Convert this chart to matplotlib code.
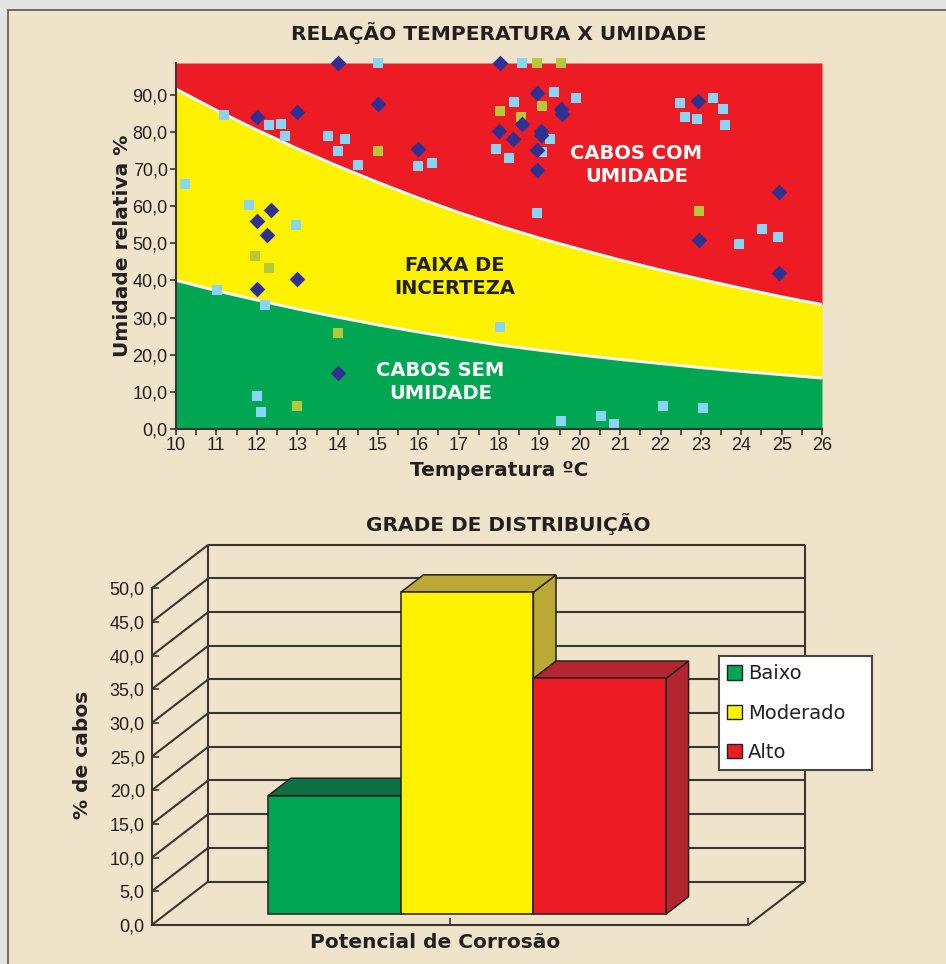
import matplotlib
matplotlib.use("Agg")
import matplotlib.pyplot as plt
import matplotlib.transforms as mtransforms
from matplotlib.patches import Rectangle, Polygon, Patch
from matplotlib.lines import Line2D
from matplotlib.ticker import FuncFormatter, MultipleLocator, FixedLocator

# ---------------- data: temperature x humidity ----------------
temp_grid = [10, 11, 12, 13, 14, 15, 16, 17, 18, 19, 20, 21, 22, 23, 24, 25, 26]
upper_limit = [91.5, 85.8, 80.5, 75.5, 70.8, 66.4, 62.2, 58.3, 54.7,
               51.4, 48.4, 45.5, 42.8, 40.3, 37.9, 35.6, 33.5]
lower_limit = [40.0, 37.2, 34.7, 32.3, 30.1, 28.0, 26.1, 24.3, 22.6,
               21.2, 19.9, 18.7, 17.6, 16.5, 15.5, 14.6, 13.7]

diamond_temp = [14.02, 18.02, 12.0, 13.0, 15.0, 16.0, 12.35, 12.0, 12.25, 12.0,
                13.0, 14.02, 18.0, 18.56, 18.34, 18.95, 19.03, 19.04, 18.95, 18.95,
                19.54, 19.56, 22.92, 22.95, 24.93, 24.94]
diamond_hum = [98.5, 98.5, 83.9, 85.2, 87.5, 75.3, 58.9, 56.0, 52.3, 37.6,
               40.5, 15.2, 80.3, 82.1, 78.1, 90.4, 80.3, 79.2, 75.2, 69.7,
               86.1, 84.8, 88.2, 50.9, 63.9, 42.0]

light_temp = [15.01, 11.2, 12.31, 12.61, 12.71, 13.77, 14.19, 14.0, 14.52, 16.0,
              16.35, 17.92, 10.23, 11.82, 12.98, 18.56, 19.37, 18.36, 19.91, 19.27,
              19.06, 18.26, 18.95, 22.49, 23.31, 23.54, 22.61, 22.91, 23.6, 24.52,
              24.92, 23.95, 11.02, 12.21, 12.01, 12.11, 18.02, 19.54, 20.53, 20.86,
              22.07, 23.06]
light_hum = [98.5, 84.5, 81.8, 82.1, 78.9, 78.9, 78.1, 74.8, 71.1, 70.8,
             71.6, 75.4, 65.9, 60.3, 54.9, 98.5, 90.8, 88.0, 89.1, 78.1,
             74.5, 72.9, 58.1, 87.7, 89.1, 86.1, 84.0, 83.5, 81.8, 53.8,
             51.7, 49.8, 37.4, 33.3, 8.9, 4.5, 27.5, 2.1, 3.4, 1.3,
             6.1, 5.6]

olive_temp = [15.01, 18.03, 18.95, 19.54, 19.07, 18.55, 22.96, 11.96, 12.31, 14.02, 13.0]
olive_hum = [74.8, 85.7, 98.5, 98.5, 86.9, 83.9, 58.7, 46.6, 43.3, 25.8, 6.1]

hum_ticks = [0, 10, 20, 30, 40, 50, 60, 70, 80, 90]
temp_ticks = list(range(10, 27))

# ---------------- data: distribution ----------------
levels = ["Baixo", "Moderado", "Alto"]
share = [17.6, 47.8, 35.0]
share_ticks = [0, 5, 10, 15, 20, 25, 30, 35, 40, 45, 50]

# ---------------- style ----------------
RED, YELLOW, GREEN = "#ed1c24", "#fff200", "#00a651"
NAVY, SKY, OLIVE = "#2e3192", "#8ad4f5", "#b7c93b"
INK = "#231f20"
LINE = "#3a3632"
BEIGE = "#efe3ca"
BOLD = dict(family="DejaVu Sans", fontweight="bold", color=INK)
TICKFONT = ["Liberation Sans Narrow", "Liberation Sans"]

W, H = 946, 964
fig = plt.figure(figsize=(W / 100, H / 100), dpi=100, facecolor="#e4e5e2")

def fx(px):
    return px / W

def fy(py):
    return 1 - py / H

# beige panel
fig.patches.append(Rectangle((fx(8), -0.05), 1.2, fy(10) + 0.05,
                             transform=fig.transFigure, facecolor=BEIGE,
                             edgecolor="#66615a", linewidth=1.3, zorder=-10))

comma = FuncFormatter(lambda v, p: f"{v:.1f}".replace(".", ","))

# ---------------- top chart ----------------
ax = fig.add_axes([fx(176), fy(429), fx(822) - fx(176), fy(63) - fy(429)])
ax.set_facecolor("none")
YMAX = 98.5
ax.set_xlim(10, 26)
ax.set_ylim(0, YMAX)

ax.fill_between(temp_grid, 0, lower_limit, color=GREEN, linewidth=0, zorder=1)
ax.fill_between(temp_grid, lower_limit, upper_limit, color=YELLOW, linewidth=0, zorder=1)
ax.fill_between(temp_grid, upper_limit, YMAX, color=RED, linewidth=0, zorder=1)
ax.plot(temp_grid, upper_limit, color="white", lw=2.0, zorder=2)
ax.plot(temp_grid, lower_limit, color="white", lw=2.0, zorder=2)

ax.scatter(light_temp, light_hum, marker="s", s=62, color=SKY, linewidths=0,
           zorder=3, clip_on=False)
ax.scatter(olive_temp, olive_hum, marker="s", s=62, color=OLIVE, linewidths=0,
           zorder=4, clip_on=False)
ax.scatter(diamond_temp, diamond_hum, marker="D", s=64, color=NAVY, linewidths=0,
           zorder=5, clip_on=False)

region_kw = dict(ha="center", va="center", fontsize=14, fontweight="bold",
                 family="DejaVu Sans", linespacing=1.25, zorder=6)
ax.text(21.4, 71.0, "CABOS COM\nUMIDADE", color="white", **region_kw)
ax.text(16.9, 41.0, "FAIXA DE\nINCERTEZA", color=INK, **region_kw)
ax.text(16.55, 12.7, "CABOS SEM\nUMIDADE", color="white", **region_kw)

for side in ("top", "right"):
    ax.spines[side].set_visible(False)
for side in ("left", "bottom"):
    ax.spines[side].set_color(LINE)
    ax.spines[side].set_linewidth(1.5)
    ax.spines[side].set_zorder(7)
ax.set_xticks(temp_ticks)
ax.xaxis.set_minor_locator(MultipleLocator(0.5))
ax.set_yticks(hum_ticks)
ax.yaxis.set_major_formatter(comma)
ax.tick_params(axis="both", which="both", direction="out", length=4, width=1.2,
               color=LINE, labelsize=13, labelcolor=INK)
ax.tick_params(axis="x", pad=2)
ax.tick_params(axis="y", pad=2)
for lab in ax.get_xticklabels() + ax.get_yticklabels():
    lab.set_family(TICKFONT)

fig.text(fx(499), fy(33), "RELAÇÃO TEMPERATURA X UMIDADE", ha="center", va="center",
         fontsize=14.5, **BOLD)
fig.text(fx(499), fy(470), "Temperatura ºC", ha="center", va="center", fontsize=14.5, **BOLD)
fig.text(fx(122), fy(246), "Umidade relativa %", ha="center", va="center",
         rotation=90, fontsize=14.5, **BOLD)

# ---------------- bottom chart (oblique 3D bars) ----------------
ax2 = fig.add_axes([fx(151.7), fy(925), fx(748.3) - fx(151.7), fy(588.3) - fy(925)])
ax2.set_facecolor("none")
ax2.set_xlim(0, 1)
ax2.set_ylim(0, 50)
for side in ("top", "right"):
    ax2.spines[side].set_visible(False)
for side in ("left", "bottom"):
    ax2.spines[side].set_color(LINE)
    ax2.spines[side].set_linewidth(1.5)
ax2.yaxis.set_major_locator(FixedLocator(share_ticks))
ax2.yaxis.set_major_formatter(comma)
ax2.xaxis.set_major_locator(FixedLocator([0.5, 1.0]))
ax2.set_xticklabels([])
ax2.tick_params(axis="both", direction="in", length=5, width=1.2, color=LINE,
                labelsize=13, labelcolor=INK)
ax2.tick_params(axis="y", pad=5)
for lab in ax2.get_yticklabels():
    lab.set_family(TICKFONT)

DEPTH_X, DEPTH_Y = 56.5, 43.5   # wall depth in pixels
BAR_FRONT, BAR_BACK = 0.25, 0.65
ident = mtransforms.IdentityTransform()

def proj(x, v, f):
    px, py = ax2.transData.transform((x, v))
    return (px + f * DEPTH_X, py + f * DEPTH_Y)

def seg(p, q, **kw):
    ax2.add_line(Line2D([p[0], q[0]], [p[1], q[1]], transform=ident, color=LINE,
                        lw=1.5, clip_on=False, solid_capstyle="butt", **kw))

# back wall gridlines and left wall diagonals
for v in share_ticks:
    seg(proj(0, v, 1), proj(1, v, 1), zorder=1)
    seg(proj(0, v, 0), proj(0, v, 1), zorder=1)
seg(proj(0, 0, 1), proj(0, 50, 1), zorder=1)
seg(proj(1, 0, 1), proj(1, 50, 1), zorder=1)
seg(proj(1, 0, 0), proj(1, 0, 1), zorder=1)

front_cols = [GREEN, YELLOW, RED]
shade_cols = ["#0c7042", "#bba936", "#b3262f"]
bar_w = 2 / 9
for i, (val, fc, sc) in enumerate(zip(share, front_cols, shade_cols)):
    x0 = 0.5 + (i - 1) * bar_w - bar_w / 2 + 0.005
    x1 = x0 + bar_w
    z = 3 + i
    edge = dict(edgecolor=INK, linewidth=1.1, transform=ident, clip_on=False,
                joinstyle="miter")
    front = [proj(x0, 0, BAR_FRONT), proj(x1, 0, BAR_FRONT),
             proj(x1, val, BAR_FRONT), proj(x0, val, BAR_FRONT)]
    top = [proj(x0, val, BAR_FRONT), proj(x1, val, BAR_FRONT),
           proj(x1, val, BAR_BACK), proj(x0, val, BAR_BACK)]
    side = [proj(x1, 0, BAR_FRONT), proj(x1, 0, BAR_BACK),
            proj(x1, val, BAR_BACK), proj(x1, val, BAR_FRONT)]
    ax2.add_patch(Polygon(side, closed=True, facecolor=sc, zorder=z, **edge))
    ax2.add_patch(Polygon(top, closed=True, facecolor=sc, zorder=z, **edge))
    ax2.add_patch(Polygon(front, closed=True, facecolor=fc, zorder=z + 0.5, **edge))

handles = [Patch(facecolor=c, edgecolor=INK, linewidth=1.0) for c in front_cols]
leg = ax2.legend(handles, levels, loc="upper left",
                 bbox_to_anchor=(fx(719.3), fy(656), fx(871.7) - fx(719.3), 0),
                 bbox_transform=fig.transFigure, mode="expand", borderaxespad=0,
                 frameon=True, fancybox=False, framealpha=1,
                 facecolor="white", edgecolor="#4a4540", handlelength=0.75,
                 handleheight=0.75, handletextpad=0.3, labelspacing=1.05,
                 borderpad=0.42, prop=dict(family="DejaVu Sans", size=14))
leg.get_frame().set_linewidth(1.5)
leg.set_zorder(20)
for t in leg.get_texts():
    t.set_color(INK)

fig.text(fx(508), fy(524), "GRADE DE DISTRIBUIÇÃO", ha="center", va="center",
         fontsize=14.5, **BOLD)
fig.text(fx(435), fy(943), "Potencial de Corrosão", ha="center", va="center",
         fontsize=14.5, **BOLD)
fig.text(fx(83), fy(755), "% de cabos", ha="center", va="center", rotation=90,
         fontsize=14.5, **BOLD)

fig.savefig("out.png", dpi=100, facecolor=fig.get_facecolor())
